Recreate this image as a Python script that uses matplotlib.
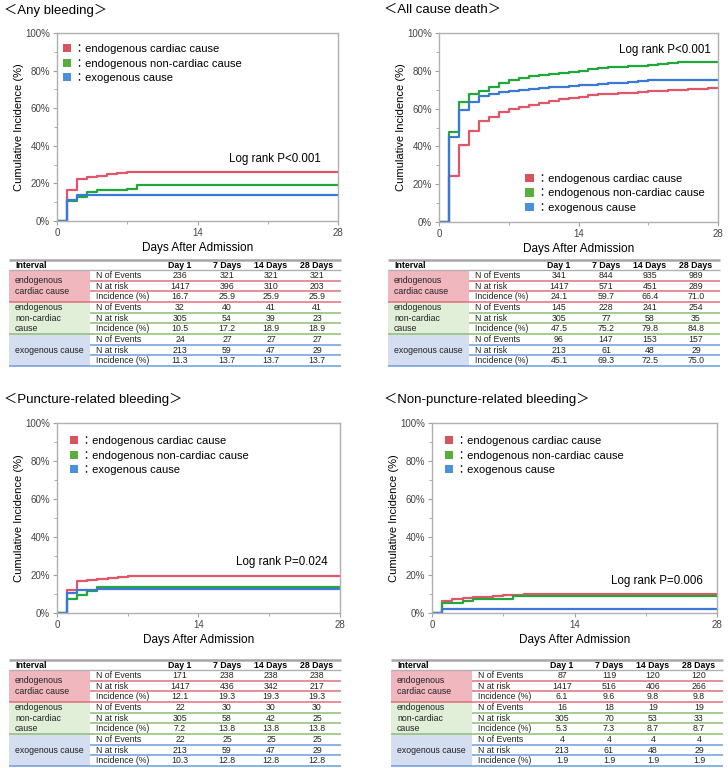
import matplotlib
matplotlib.use("Agg")
import matplotlib.pyplot as plt
from matplotlib.patches import Rectangle, Patch
from matplotlib.ticker import MultipleLocator, FuncFormatter

plt.rcParams['font.family'] = ['Liberation Sans', 'Noto Sans CJK JP', 'DejaVu Sans']

# ---------------- data ----------------
group_names = ["endogenous cardiac cause", "endogenous non-cardiac cause", "exogenous cause"]
group_cells = [["endogenous", "cardiac cause"], ["endogenous", "non-cardiac", "cause"], ["exogenous cause"]]
row_labels = ["N of Events", "N at risk", "Incidence (%)"]
col_labels = ["Day 1", "7 Days", "14 Days", "28 Days"]
titles = ["＜Any bleeding＞", "＜All cause death＞", "＜Puncture-related bleeding＞", "＜Non-puncture-related bleeding＞"]
logrank = ["Log rank P<0.001", "Log rank P<0.001", "Log rank P=0.024", "Log rank P=0.006"]

# Any bleeding curves
any_card_days = [0, 1, 2, 3, 4, 5, 6, 7]
any_card_inc = [0, 16.7, 22.5, 23.3, 24.1, 24.8, 25.4, 25.9]
any_nonc_days = [0, 1, 2, 3, 4, 7, 8]
any_nonc_inc = [0, 10.5, 13.0, 15.2, 16.6, 17.2, 18.9]
any_exo_days = [0, 1, 2]
any_exo_inc = [0, 11.3, 13.7]

# All cause death curves
acd_card_days = list(range(0, 28))
acd_card_inc = [0, 24.1, 41.0, 48.0, 53.4, 55.8, 58.2, 59.7, 60.8, 62.0, 63.1, 64.2, 65.1, 65.8,
                66.4, 67.0, 67.5, 67.9, 68.3, 68.5, 68.8, 69.1, 69.3, 69.7, 70.0, 70.2, 70.5, 70.8]
acd_nonc_days = list(range(0, 25))
acd_nonc_inc = [0, 47.5, 63.5, 67.5, 69.5, 71.5, 73.5, 75.2, 76.0, 77.0, 77.8, 78.4, 79.0, 79.4,
                79.8, 81.0, 81.5, 81.8, 82.1, 82.4, 82.8, 83.3, 83.8, 84.3, 84.8]
acd_exo_days = list(range(0, 22))
acd_exo_inc = [0, 45.1, 59.5, 63.5, 66.5, 67.8, 68.6, 69.3, 69.7, 70.2, 70.8, 71.2, 71.6, 72.0,
               72.5, 72.5, 72.8, 73.8, 73.8, 74.2, 74.6, 75.0]

# Puncture-related bleeding curves
pun_card_days = [0, 1, 2, 3, 4, 5, 6, 7]
pun_card_inc = [0, 12.1, 16.7, 17.4, 17.9, 18.3, 18.7, 19.3]
pun_nonc_days = [0, 1, 2, 3, 4]
pun_nonc_inc = [0, 7.2, 9.5, 11.8, 13.8]
pun_exo_days = [0, 1, 2, 4]
pun_exo_inc = [0, 10.3, 12.2, 12.8]

# Non-puncture-related bleeding curves
npb_card_days = [0, 1, 2, 3, 4, 5, 6, 7, 9]
npb_card_inc = [0, 6.1, 7.3, 7.8, 8.2, 8.6, 9.0, 9.6, 9.8]
npb_nonc_days = [0, 1, 3, 4, 8]
npb_nonc_inc = [0, 5.3, 6.2, 7.3, 8.7]
npb_exo_days = [0, 1]
npb_exo_inc = [0, 1.9]

# tables: rows = groups, cols = Day 1, 7, 14, 28
any_events = [[236, 321, 321, 321], [32, 40, 41, 41], [24, 27, 27, 27]]
any_risk = [[1417, 396, 310, 203], [305, 54, 39, 23], [213, 59, 47, 29]]
any_incid = [[16.7, 25.9, 25.9, 25.9], [10.5, 17.2, 18.9, 18.9], [11.3, 13.7, 13.7, 13.7]]

acd_events = [[341, 844, 935, 989], [145, 228, 241, 254], [96, 147, 153, 157]]
acd_risk = [[1417, 571, 451, 289], [305, 77, 58, 35], [213, 61, 48, 29]]
acd_incid = [[24.1, 59.7, 66.4, 71.0], [47.5, 75.2, 79.8, 84.8], [45.1, 69.3, 72.5, 75.0]]

pun_events = [[171, 238, 238, 238], [22, 30, 30, 30], [22, 25, 25, 25]]
pun_risk = [[1417, 436, 342, 217], [305, 58, 42, 25], [213, 59, 47, 29]]
pun_incid = [[12.1, 19.3, 19.3, 19.3], [7.2, 13.8, 13.8, 13.8], [10.3, 12.8, 12.8, 12.8]]

npb_events = [[87, 119, 120, 120], [16, 18, 19, 19], [4, 4, 4, 4]]
npb_risk = [[1417, 516, 406, 266], [305, 70, 53, 33], [213, 61, 48, 29]]
npb_incid = [[6.1, 9.6, 9.8, 9.8], [5.3, 7.3, 8.7, 8.7], [1.9, 1.9, 1.9, 1.9]]

# ---------------- style ----------------
curve_colors = ["#e2566a", "#22a83a", "#3a7ad6"]
legend_colors = ["#d9535f", "#58ad3c", "#4b90dd"]
cell_colors = ["#f1b7bf", "#e1efd8", "#d5ddf1"]
line_colors = ["#e0707c", "#8cc074", "#6d9be0"]
TFS = 6.3

W, H = 728, 768
fig = plt.figure(figsize=(W / 100, H / 100), dpi=100)

# overlay axes in pixel coordinates for titles and tables
tax = fig.add_axes([0, 0, 1, 1])
tax.set_xlim(0, W)
tax.set_ylim(H, 0)
tax.axis('off')

def draw_table(x0, y0, events, risk, incid):
    width = 332
    hh = 10.5
    rh = 10.65
    colx = [171, 218, 262, 308]
    tax.plot([x0, x0 + width], [y0, y0], color="#a6a6a6", lw=1.8, solid_capstyle='butt')
    tax.text(x0 + 6, y0 + hh / 2 + 0.5, "Interval", fontsize=TFS, fontweight='bold', va='center', ha='left')
    for cx, cl in zip(colx, col_labels):
        tax.text(x0 + cx, y0 + hh / 2 + 0.5, cl, fontsize=TFS, fontweight='bold', va='center', ha='center')
    ytop = y0 + hh
    tax.plot([x0, x0 + width], [ytop, ytop], color="#b0b0b0", lw=1.0, solid_capstyle='butt')
    for g in range(3):
        gy = ytop + g * 3 * rh
        tax.add_patch(Rectangle((x0, gy), 81, 3 * rh, facecolor=cell_colors[g], edgecolor='none'))
        n = len(group_cells[g])
        gc = gy + 1.5 * rh
        for k, line in enumerate(group_cells[g]):
            tax.text(x0 + 6, gc + (k - (n - 1) / 2) * rh + 0.3, line,
                     fontsize=TFS, va='center', ha='left', color="#222222")
        vals = [events[g], risk[g], incid[g]]
        for r in range(3):
            ry = gy + r * rh
            tax.text(x0 + 87, ry + rh / 2 + 0.3, row_labels[r], fontsize=TFS, va='center', ha='left', color="#222222")
            for c in range(4):
                v = vals[r][c]
                s = f"{v:.1f}" if r == 2 else f"{v}"
                tax.text(x0 + colx[c], ry + rh / 2 + 0.3, s, fontsize=TFS, va='center', ha='center', color="#222222")
            lx0 = x0 + 81 if r < 2 else x0
            tax.plot([lx0, x0 + width], [ry + rh, ry + rh], color=line_colors[g], lw=1.1, solid_capstyle='butt')

def pct(v, pos):
    return f"{int(v)}%"

def draw_km(rect, curves, lr_text, lr_pos, leg_loc, leg_anchor):
    ax = fig.add_axes(rect)
    for (days, inc), col in zip(curves, curve_colors):
        ax.step(list(days) + [28], list(inc) + [inc[-1]], where='post', color=col, lw=1.6)
    ax.set_xlim(0, 28)
    ax.set_ylim(0, 100)
    ax.xaxis.set_major_locator(MultipleLocator(14))
    ax.xaxis.set_minor_locator(MultipleLocator(7))
    ax.yaxis.set_major_locator(MultipleLocator(20))
    ax.yaxis.set_minor_locator(MultipleLocator(10))
    ax.yaxis.set_major_formatter(FuncFormatter(pct))
    for sp in ax.spines.values():
        sp.set_color("#b0b0b0")
        sp.set_linewidth(1.0)
    ax.tick_params(which='both', direction='out', color="#a0a0a0", labelsize=7, labelcolor="#444444")
    ax.tick_params(which='major', length=3, pad=2)
    ax.tick_params(which='minor', length=2)
    ax.set_ylabel("Cumulative Incidence (%)", fontsize=8, labelpad=1)
    ax.set_xlabel("Days After Admission", fontsize=8.5, labelpad=3)
    ax.text(lr_pos[0], lr_pos[1], lr_text, transform=ax.transAxes, fontsize=8.3, ha='right', va='center')
    handles = [Patch(facecolor=c, edgecolor='none') for c in legend_colors]
    labels = ["：" + g for g in group_names]
    ax.legend(handles, labels, loc=leg_loc, bbox_to_anchor=leg_anchor, frameon=False, fontsize=8,
              handlelength=0.75, handleheight=0.75, handletextpad=0.3, labelspacing=0.38,
              borderpad=0, borderaxespad=0)
    return ax

def fx(px):
    return px / W

def fy(px):
    return 1 - px / H

draw_km([fx(57), fy(221), fx(281), (221 - 33) / H],
        [(any_card_days, any_card_inc), (any_nonc_days, any_nonc_inc), (any_exo_days, any_exo_inc)],
        logrank[0], (0.94, 0.33), 'upper left', (0.02, 0.94))
draw_km([fx(439), fy(222), fx(279), (222 - 33) / H],
        [(acd_card_days, acd_card_inc), (acd_nonc_days, acd_nonc_inc), (acd_exo_days, acd_exo_inc)],
        logrank[1], (0.975, 0.91), 'lower left', (0.31, 0.05))
draw_km([fx(57), fy(613), fx(283), (613 - 423) / H],
        [(pun_card_days, pun_card_inc), (pun_nonc_days, pun_nonc_inc), (pun_exo_days, pun_exo_inc)],
        logrank[2], (0.957, 0.27), 'upper left', (0.045, 0.93))
draw_km([fx(432), fy(613), fx(285), (613 - 423) / H],
        [(npb_card_days, npb_card_inc), (npb_nonc_days, npb_nonc_inc), (npb_exo_days, npb_exo_inc)],
        logrank[3], (0.95, 0.17), 'upper left', (0.045, 0.93))

tax.text(4, 10, titles[0], fontsize=9.5, va='center', ha='left')
tax.text(384, 10, titles[1], fontsize=9.5, va='center', ha='left')
tax.text(4, 399, titles[2], fontsize=9.5, va='center', ha='left')
tax.text(384, 399, titles[3], fontsize=9.5, va='center', ha='left')

draw_table(9, 259.5, any_events, any_risk, any_incid)
draw_table(388, 259.5, acd_events, acd_risk, acd_incid)
draw_table(9, 659.5, pun_events, pun_risk, pun_incid)
draw_table(391, 659.5, npb_events, npb_risk, npb_incid)

fig.savefig("out.png", dpi=100)
